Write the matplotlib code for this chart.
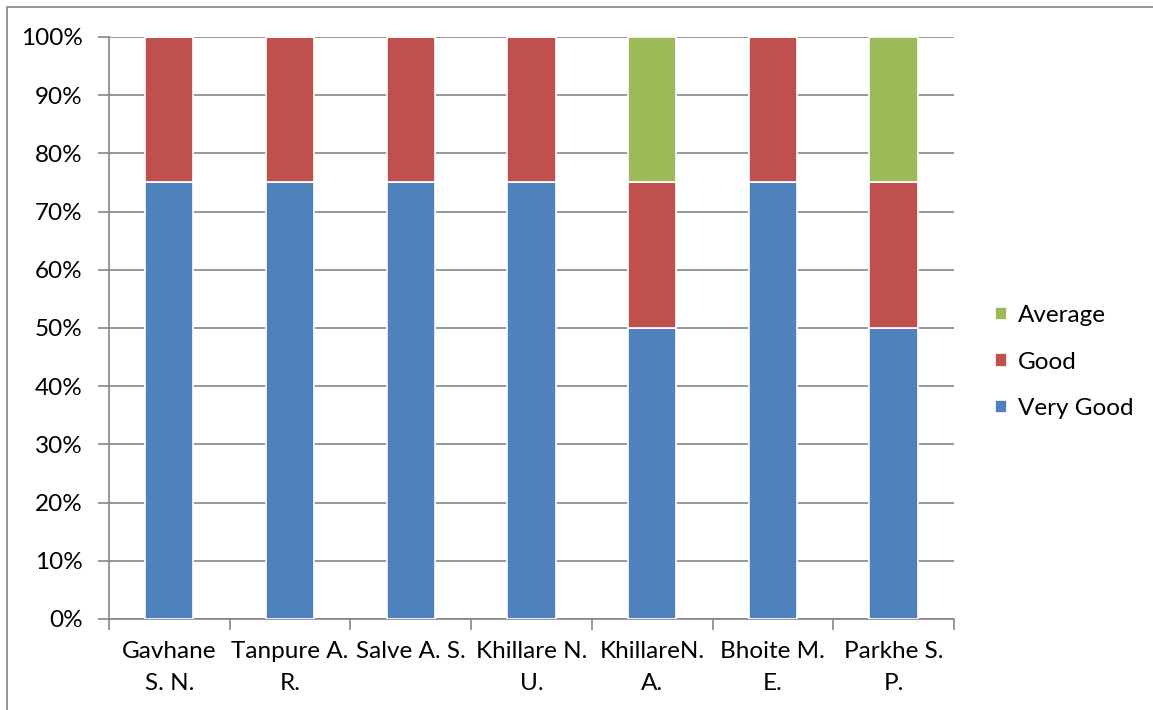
import matplotlib
matplotlib.use('Agg')
import matplotlib.pyplot as plt
import numpy as np
from matplotlib.patches import Rectangle
from matplotlib.ticker import PercentFormatter

names = ['Gavhane\nS. N.', 'Tanpure A.\nR.', 'Salve A. S.', 'Khillare N.\nU.',
         'KhillareN.\nA.', 'Bhoite M.\nE.', 'Parkhe S.\nP.']
very_good = [75, 75, 75, 75, 50, 75, 50]
good = [25, 25, 25, 25, 25, 25, 25]
average = [0, 0, 0, 0, 25, 0, 25]

BLUE = '#4f81bd'
RED = '#c0504d'
GREEN = '#9bbb59'
GRID = '#868686'

plt.rcParams['font.family'] = ['Lato', 'DejaVu Sans']


def main():
    fig = plt.figure(figsize=(11.53, 7.10), dpi=100)
    ax = fig.add_axes([0.0945, 0.1282, 0.7329, 0.8197])

    x = np.arange(len(names))
    vg = np.array(very_good)
    gd = np.array(good)
    av = np.array(average)
    w = 0.40
    kw = dict(width=w, edgecolor='white', linewidth=1.2, zorder=3)
    b1 = ax.bar(x, vg, color=BLUE, label='Very Good', **kw)
    b2 = ax.bar(x, gd, bottom=vg, color=RED, label='Good', **kw)
    b3 = ax.bar(x, av, bottom=vg + gd, color=GREEN, label='Average', **kw)

    ax.set_xlim(-0.5, len(names) - 0.5)
    ax.set_ylim(0, 100)
    ax.set_yticks(np.arange(0, 101, 10))
    ax.yaxis.set_major_formatter(PercentFormatter(decimals=0))
    ax.yaxis.grid(True, color=GRID, linewidth=1.2, zorder=0)
    ax.set_axisbelow(True)

    # category boundaries as ticks, labels centred between
    ax.set_xticks(np.arange(-0.5, len(names), 1.0))
    ax.set_xticklabels([])
    ax.set_xticks(x, minor=True)
    ax.set_xticklabels(names, minor=True, fontsize=17.5, linespacing=1.62)
    ax.tick_params(axis='x', which='minor', length=0, pad=16)
    ax.tick_params(axis='x', which='major', length=8, width=1.2, color=GRID, direction='out')
    ax.tick_params(axis='y', length=8, width=1.2, color=GRID, labelsize=17.5, pad=11)

    for s in ['top', 'right']:
        ax.spines[s].set_visible(False)
    for s in ['left', 'bottom']:
        ax.spines[s].set_color(GRID)
        ax.spines[s].set_linewidth(1.2)

    fig.legend(handles=[b3, b2, b1], labels=['Average', 'Good', 'Very Good'],
               loc='center left', bbox_to_anchor=(0.844, 0.49), frameon=False,
               fontsize=17.5, handlelength=0.5, handleheight=0.5, handletextpad=0.45,
               labelspacing=1.05)

    # chart border
    fig.patches.append(Rectangle((7 / 1153, -0.1), 1.2, 1.1 - 7 / 710,
                                 transform=fig.transFigure, fill=False,
                                 edgecolor='#8c8c8c', linewidth=1.3))

    fig.savefig('out.png', dpi=100)


if __name__ == '__main__':
    main()
